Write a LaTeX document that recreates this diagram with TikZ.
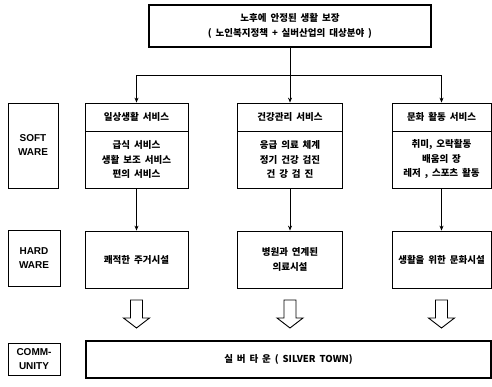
\documentclass[tikz,border=0pt]{standalone}
\usepackage{fontspec}
\setmainfont{Liberation Sans}
\newfontfamily\kr[WordSpace=1.8]{Noto Sans CJK KR}
\usetikzlibrary{arrows.meta}
\begin{document}
\begin{tikzpicture}[x=1pt,y=-1pt, line width=0.8pt,
  box/.style={draw, rectangle, inner sep=0pt, align=center},
  kt/.style={font=\kr\bfseries\fontsize{9.5}{14.5}\selectfont},
  lt/.style={font=\bfseries\fontsize{10}{14}\selectfont},
  arr/.style={-{Stealth[length=5pt,width=4pt]}},
  hollow/.style={draw, line width=0.9pt, fill=white}
  ]
\useasboundingbox (0,0) rectangle (492,387);

% top box
\node[box, kt, line width=1.2pt, minimum width=282, minimum height=42] (top) at (290,26)
  {노후에 안정된 생활 보장\\( 노인복지정책 + 실버산업의 대상분야 )};

% left labels
\node[box, lt, minimum width=50, minimum height=85] (soft) at (33,145.5) {SOFT\\WARE};
\node[box, lt, minimum width=52, minimum height=56] (hard) at (34,258) {HARD\\WARE};
\node[box, lt, minimum width=52, minimum height=32] (comm) at (34,359) {COMM-\\UNITY};

% software columns
\node[box, kt, minimum width=103, minimum height=28] (cLt) at (136.5,117) {일상생활 서비스};
\node[box, kt, minimum width=103, minimum height=57] (cLb) at (136.5,159.5) {급식 서비스\\생활 보조 서비스\\편의 서비스};
\node[box, kt, minimum width=105, minimum height=28] (cMt) at (290,117) {건강관리 서비스};
\node[box, kt, minimum width=105, minimum height=57] (cMb) at (290,159.5) {응급 의료 체계\\정기 건강 검진\\건 강 검 진};
\node[box, kt, minimum width=99, minimum height=28] (cRt) at (441.5,117) {문화 활동 서비스};
\node[box, kt, minimum width=99, minimum height=57] (cRb) at (441.5,159.5) {취미, 오락활동\\배움의 장\\레저 , 스포츠 활동};

% hardware boxes
\node[box, kt, minimum width=103, minimum height=57] (hL) at (136.5,259.5) {쾌적한 주거시설};
\node[box, kt, minimum width=105, minimum height=57] (hM) at (290,259.5) {병원과 연계된\\의료시설};
\node[box, kt, minimum width=99, minimum height=57] (hR) at (441.5,259.5) {생활을 위한 문화시설};

% community
\node[box, kt, line width=1.8pt, minimum width=405, minimum height=37] (silver) at (288.5,359.5)
  {실 버 타 운 ( SILVER TOWN)};

% connectors
\coordinate (hub) at (290,75);
\draw (top.south) -- (hub);
\draw[arr] (hub) -| (cLt.north);
\draw[arr] (hub) -- (cMt.north);
\draw[arr] (hub) -| (cRt.north);
\draw[arr] (cLb.south) -- (hL.north);
\draw[arr] (cMb.south) -- (hM.north);
\draw[arr] (cRb.south) -- (hR.north);

% hollow arrows
\foreach \cx in {136.5,290,441.5}{
  \draw[hollow] (\cx-6,300) -- (\cx-6,318) -- (\cx-13,318) -- (\cx,328)
     -- (\cx+13,318) -- (\cx+6,318) -- (\cx+6,300) -- cycle;
}
\end{tikzpicture}
\end{document}
